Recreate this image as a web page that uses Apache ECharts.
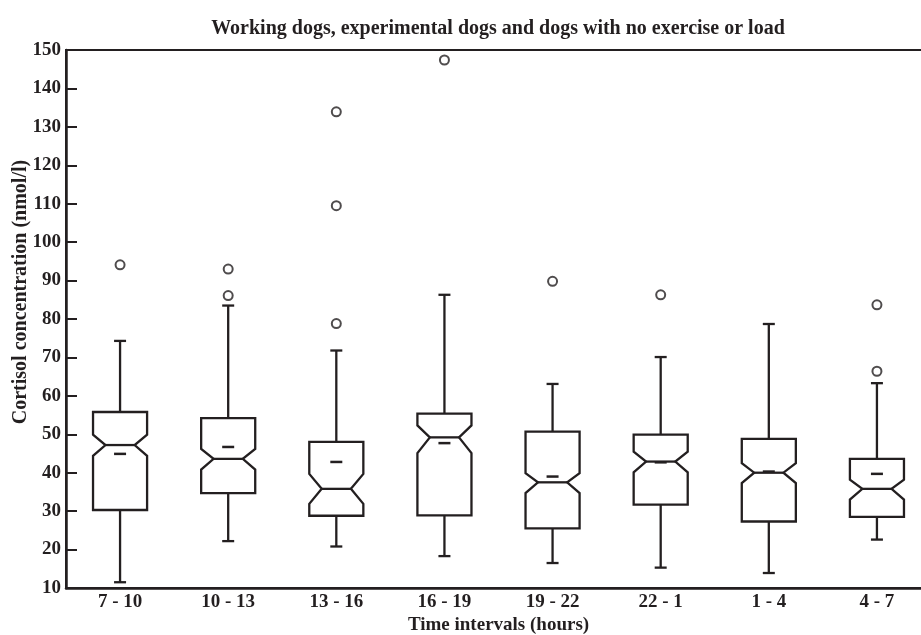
<!DOCTYPE html>
<html>
<head>
<meta charset="utf-8">
<script src="https://cdn.jsdelivr.net/npm/echarts@6/dist/echarts.min.js"></script>
<style>html,body{margin:0;padding:0;background:#fff;}#c{width:921px;height:635px;}</style>
</head>
<body>
<div id="c"></div>
<script>
const categories = ['7 - 10','10 - 13','13 - 16','16 - 19','19 - 22','22 - 1','1 - 4','4 - 7'];
const whiskerLow  = [11.5, 22.2, 20.8, 18.3, 16.5, 15.3, 13.9, 22.6];
const q1          = [30.3, 34.7, 28.8, 28.9, 25.5, 31.7, 27.3, 28.5];
const notchLow    = [44.4, 40.8, 31.9, 45.1, 34.7, 40.1, 37.3, 33.0];
const median      = [47.2, 43.6, 35.8, 49.2, 37.5, 42.9, 40.0, 35.8];
const notchHigh   = [49.9, 46.2, 39.7, 52.3, 39.9, 45.5, 42.5, 38.2];
const q3          = [55.8, 54.2, 48.0, 55.4, 50.7, 49.9, 48.8, 43.6];
const whiskerHigh = [74.3, 83.5, 71.8, 86.3, 63.1, 70.1, 78.7, 63.3];
const mean        = [44.9, 46.7, 42.8, 47.7, 39.0, 42.7, 40.3, 39.7];
const outliers = [[0,94.1],[1,93.0],[1,86.1],[2,78.8],[2,109.5],[2,133.9],[3,147.4],[4,89.8],[5,86.3],[7,66.4],[7,83.7]];
const yTicks = {min: 10, max: 150, interval: 10};

const INK = '#231f20';
const FONT = 'Liberation Serif';

const boxData = categories.map((c, i) => [i, whiskerLow[i], q1[i], notchLow[i], median[i], notchHigh[i], q3[i], whiskerHigh[i], mean[i]]);

function renderItem(params, api) {
  const idx = api.value(0);
  const band = api.size([1, 0])[0];
  const hw = band * 0.25;
  const nw = hw * 0.54;
  const cap = 6;
  const y = k => api.coord([idx, api.value(k)])[1];
  const cx = api.coord([idx, api.value(4)])[0];
  const yWl = y(1), yQ1 = y(2), yNl = y(3), yMed = y(4), yNh = y(5), yQ3 = y(6), yWh = y(7), yMean = y(8);
  const ls = {stroke: INK, lineWidth: 2.3, fill: null};
  return {
    type: 'group',
    children: [
      {type: 'polygon', shape: {points: [
        [cx - hw, yQ3], [cx + hw, yQ3], [cx + hw, yNh], [cx + nw, yMed], [cx + hw, yNl],
        [cx + hw, yQ1], [cx - hw, yQ1], [cx - hw, yNl], [cx - nw, yMed], [cx - hw, yNh]
      ]}, style: {stroke: INK, lineWidth: 2.3, fill: '#fff', lineJoin: 'miter'}},
      {type: 'line', shape: {x1: cx - nw, y1: yMed, x2: cx + nw, y2: yMed}, style: ls},
      {type: 'line', shape: {x1: cx, y1: yQ3, x2: cx, y2: yWh}, style: ls},
      {type: 'line', shape: {x1: cx, y1: yQ1, x2: cx, y2: yWl}, style: ls},
      {type: 'line', shape: {x1: cx - cap, y1: yWh, x2: cx + cap, y2: yWh}, style: ls},
      {type: 'line', shape: {x1: cx - cap, y1: yWl, x2: cx + cap, y2: yWl}, style: ls},
      {type: 'line', shape: {x1: cx - 6, y1: yMean, x2: cx + 6, y2: yMean}, style: {stroke: INK, lineWidth: 2.5}}
    ]
  };
}

const chart = echarts.init(document.getElementById('c'), null, {renderer: 'canvas'});
chart.setOption({
  animation: false,
  backgroundColor: '#fff',
  title: {
    text: 'Working dogs, experimental dogs and dogs with no exercise or load',
    left: 493, textAlign: 'center', top: 14,
    textStyle: {fontFamily: FONT, fontWeight: 'bold', fontSize: 20, color: INK}
  },
  grid: {left: 66, top: 50, width: 865, height: 538, outerBoundsMode: 'none', containLabel: false,
         show: true, borderColor: INK, borderWidth: 2, backgroundColor: 'transparent'},
  xAxis: {
    type: 'category', data: categories, boundaryGap: true,
    name: 'Time intervals (hours)', nameLocation: 'middle', nameGap: 28, nameMoveOverlap: false,
    nameTextStyle: {fontFamily: FONT, fontWeight: 'bold', fontSize: 19, color: INK},
    axisLine: {lineStyle: {color: INK, width: 2.5}},
    axisTick: {inside: true, alignWithLabel: true, length: 11, lineStyle: {color: INK, width: 2}},
    axisLabel: {fontFamily: FONT, fontWeight: 'bold', fontSize: 19, color: INK, margin: 5},
    splitLine: {show: false}
  },
  yAxis: {
    type: 'value', min: yTicks.min, max: yTicks.max, interval: yTicks.interval,
    name: 'Cortisol concentration (nmol/l)', nameLocation: 'middle', nameGap: 35, nameRotate: 90,
    nameMoveOverlap: false,
    nameTextStyle: {fontFamily: FONT, fontWeight: 'bold', fontSize: 20, color: INK, padding: [0, 0, 0, 54]},
    axisLine: {show: true, lineStyle: {color: INK, width: 2.5}},
    axisTick: {show: true, inside: true, length: 11, lineStyle: {color: INK, width: 2}},
    axisLabel: {fontFamily: FONT, fontWeight: 'bold', fontSize: 19, color: INK, margin: 5},
    splitLine: {show: false}
  },
  series: [
    {type: 'custom', renderItem: renderItem, data: boxData, encode: {x: 0, y: [1, 2, 3, 4, 5, 6, 7, 8]}, z: 2},
    {type: 'scatter', data: outliers, symbol: 'emptyCircle', symbolSize: 9,
     itemStyle: {color: INK, borderColor: INK, borderWidth: 2.3}, z: 3}
  ]
});
</script>
</body>
</html>
